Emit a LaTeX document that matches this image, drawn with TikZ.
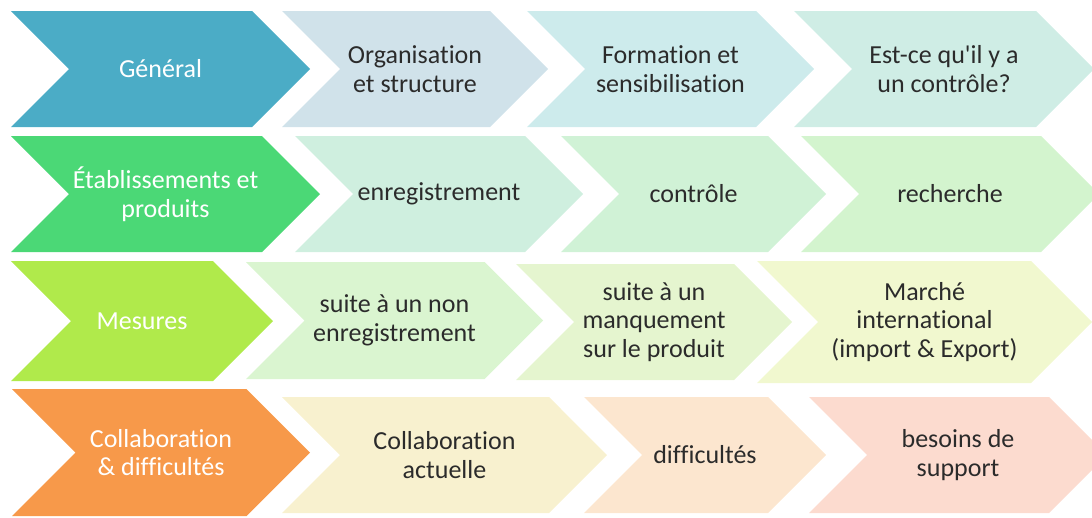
\documentclass[tikz,border=0pt]{standalone}
\usepackage{fontspec}
\setmainfont{Carlito}[Ligatures={NoCommon,TeXOff}]

% palette
\definecolor{txtdark}{HTML}{2B2B2B}
\definecolor{aA}{HTML}{4BACC6}\definecolor{aB}{HTML}{D0E2EA}\definecolor{aC}{HTML}{CDEBEC}\definecolor{aD}{HTML}{CFEDE5}
\definecolor{bA}{HTML}{4BD876}\definecolor{bB}{HTML}{CFEFDF}\definecolor{bC}{HTML}{D0F2D6}\definecolor{bD}{HTML}{D3F4CE}
\definecolor{cA}{HTML}{B0EA4B}\definecolor{cB}{HTML}{DAF5D0}\definecolor{cC}{HTML}{E5F5CF}\definecolor{cD}{HTML}{F1F8CF}
\definecolor{dA}{HTML}{F7994A}\definecolor{dB}{HTML}{F8F1CF}\definecolor{dC}{HTML}{FCE6CF}\definecolor{dD}{HTML}{FCDBCF}

% #1 name, #2 left, #3 top, #4 bottom, #5 tip, #6 fill, #7 label style, #8 label
\newcommand\chevronbox[8]{%
  \pgfmathsetmacro\cd{(#4-#3)/2}%
  \fill[#6] (#2,#3) -- ({#5-\cd},#3) -- (#5,{#3+\cd}) -- ({#5-\cd},#4)
            -- (#2,#4) -- ({#2+\cd},{#3+\cd}) -- cycle;
  \node[lbl,#7] (#1) at ({(#2+#5)/2},{(#3+#4)/2}) {#8};%
}

\begin{document}
\begin{tikzpicture}[x=1pt,y=-1pt,
  lbl/.style={align=center,inner sep=0pt,font=\fontsize{26}{28.5}\selectfont},
  head/.style={text=white},
  item/.style={text=txtdark}]
\useasboundingbox (0,0) rectangle (1092,517);
\clip (0,0) rectangle (1092,517);

% row 1
\chevronbox{g1}{11}{11}{127}{310}{aA}{head}{Général}
\chevronbox{g2}{282}{11}{127}{548}{aB}{item}{Organisation\\et structure}
\chevronbox{g3}{527}{11}{127}{814}{aC}{item}{Formation et\\sensibilisation}
\chevronbox{g4}{794}{11}{127}{1094}{aD}{item}{Est-ce qu'il y a\\un contrôle?}

% row 2
\chevronbox{e1}{11}{136}{252}{320}{bA}{head}{Établissements et\\produits}
\chevronbox{e2}{295}{136}{252}{583}{bB}{item}{enregistrement}
\chevronbox{e3}{561}{136}{252}{826}{bC}{item}{contrôle}
\chevronbox{e4}{801}{136}{252}{1099}{bD}{item}{recherche}

% row 3
\chevronbox{m1}{11}{261}{381}{273}{cA}{head}{Mesures}
\chevronbox{m2}{246}{262}{379}{543}{cB}{item}{suite à un non\\enregistrement}
\chevronbox{m3}{516}{264}{380}{792}{cC}{item}{suite à un\\manquement\\sur le produit}
\chevronbox{m4}{757}{261}{383}{1092}{cD}{item}{Marché\\international\\(import \& Export)}

% row 4
\chevronbox{c1}{12}{389}{516}{310}{dA}{head}{Collaboration\\\& difficultés}
\chevronbox{c2}{282}{397}{513}{607}{dB}{item}{Collaboration\\actuelle}
\chevronbox{c3}{584}{397}{513}{826}{dC}{item}{difficultés}
\chevronbox{c4}{809}{397}{513}{1107}{dD}{item}{besoins de\\support}
\end{tikzpicture}
\end{document}
